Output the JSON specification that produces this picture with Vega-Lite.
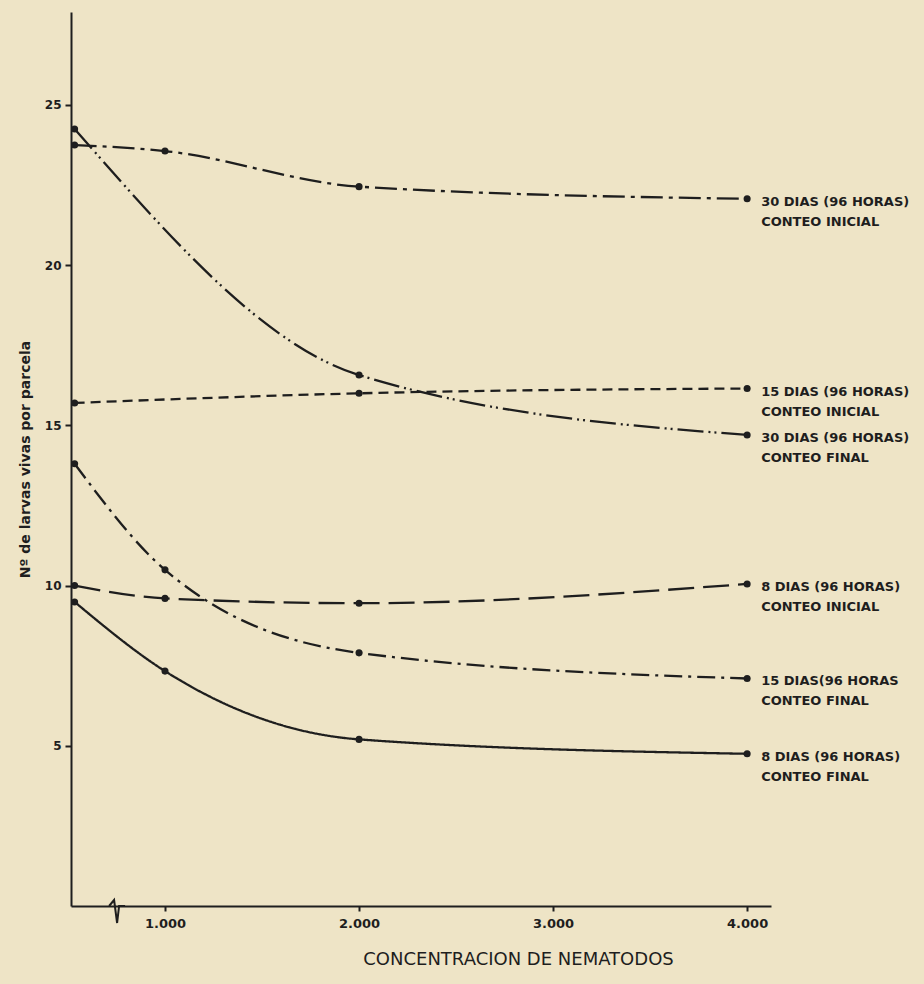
{
  "$schema": "https://vega.github.io/schema/vega-lite/v6.json",
  "autosize": "none",
  "width": 700,
  "height": 894,
  "padding": {"left": 71, "top": 12, "right": 153, "bottom": 78},
  "background": "#eee4c6",
  "config": {
    "view": {"stroke": null},
    "axis": {"domainColor": "#1e1e1e", "tickColor": "#1e1e1e", "labelColor": "#1e1e1e", "titleColor": "#1e1e1e", "grid": false, "labelFont": "DejaVu Sans", "titleFont": "DejaVu Sans"}
  },
  "datasets": {
    "curvas": [
      {"curva": "30i", "dias": "30 DIAS (96 HORAS)", "conteo": "CONTEO INICIAL", "concentracion": 500, "larvas": 23.75},
      {"curva": "30i", "dias": "30 DIAS (96 HORAS)", "conteo": "CONTEO INICIAL", "concentracion": 1000, "larvas": 23.56},
      {"curva": "30i", "dias": "30 DIAS (96 HORAS)", "conteo": "CONTEO INICIAL", "concentracion": 2000, "larvas": 22.45},
      {"curva": "30i", "dias": "30 DIAS (96 HORAS)", "conteo": "CONTEO INICIAL", "concentracion": 4000, "larvas": 22.07},
      {"curva": "30f", "dias": "30 DIAS (96 HORAS)", "conteo": "CONTEO FINAL", "concentracion": 500, "larvas": 24.25},
      {"curva": "30f", "dias": "30 DIAS (96 HORAS)", "conteo": "CONTEO FINAL", "concentracion": 2000, "larvas": 16.57},
      {"curva": "30f", "dias": "30 DIAS (96 HORAS)", "conteo": "CONTEO FINAL", "concentracion": 4000, "larvas": 14.7},
      {"curva": "15i", "dias": "15 DIAS (96 HORAS)", "conteo": "CONTEO INICIAL", "concentracion": 500, "larvas": 15.7},
      {"curva": "15i", "dias": "15 DIAS (96 HORAS)", "conteo": "CONTEO INICIAL", "concentracion": 2000, "larvas": 16.0},
      {"curva": "15i", "dias": "15 DIAS (96 HORAS)", "conteo": "CONTEO INICIAL", "concentracion": 4000, "larvas": 16.15},
      {"curva": "8i", "dias": "8 DIAS (96 HORAS)", "conteo": "CONTEO INICIAL", "concentracion": 500, "larvas": 10.0},
      {"curva": "8i", "dias": "8 DIAS (96 HORAS)", "conteo": "CONTEO INICIAL", "concentracion": 1000, "larvas": 9.6},
      {"curva": "8i", "dias": "8 DIAS (96 HORAS)", "conteo": "CONTEO INICIAL", "concentracion": 2000, "larvas": 9.45},
      {"curva": "8i", "dias": "8 DIAS (96 HORAS)", "conteo": "CONTEO INICIAL", "concentracion": 4000, "larvas": 10.05},
      {"curva": "15f", "dias": "15 DIAS(96 HORAS", "conteo": "CONTEO FINAL", "concentracion": 500, "larvas": 13.8},
      {"curva": "15f", "dias": "15 DIAS(96 HORAS", "conteo": "CONTEO FINAL", "concentracion": 1000, "larvas": 10.49},
      {"curva": "15f", "dias": "15 DIAS(96 HORAS", "conteo": "CONTEO FINAL", "concentracion": 2000, "larvas": 7.9},
      {"curva": "15f", "dias": "15 DIAS(96 HORAS", "conteo": "CONTEO FINAL", "concentracion": 4000, "larvas": 7.1},
      {"curva": "8f", "dias": "8 DIAS (96 HORAS)", "conteo": "CONTEO FINAL", "concentracion": 500, "larvas": 9.49},
      {"curva": "8f", "dias": "8 DIAS (96 HORAS)", "conteo": "CONTEO FINAL", "concentracion": 1000, "larvas": 7.33},
      {"curva": "8f", "dias": "8 DIAS (96 HORAS)", "conteo": "CONTEO FINAL", "concentracion": 2000, "larvas": 5.2},
      {"curva": "8f", "dias": "8 DIAS (96 HORAS)", "conteo": "CONTEO FINAL", "concentracion": 4000, "larvas": 4.75}
    ],
    "corte": [{"concentracion": 735, "larvas": 0}]
  },
  "encoding": {
    "x": {
      "field": "concentracion", "type": "quantitative",
      "scale": {"domain": [480, 1000, 4123], "range": [0, 94, 700]},
      "axis": {
        "values": [1000, 2000, 3000, 4000],
        "labelExpr": "replace(format(datum.value, ','), ',', '.')",
        "title": "CONCENTRACION DE NEMATODOS",
        "titleFontSize": 18, "titleFontWeight": 500, "titlePadding": 20,
        "titleX": 447,
        "labelFontSize": 13, "labelFontWeight": "bold", "labelPadding": 6,
        "tickSize": 5, "domainWidth": 2, "tickWidth": 2
      }
    },
    "y": {
      "field": "larvas", "type": "quantitative",
      "scale": {"domain": [0, 27.9], "nice": false, "zero": true},
      "axis": {
        "values": [5, 10, 15, 20, 25],
        "title": "Nº de larvas vivas por parcela",
        "titleFontSize": 14, "titleFontWeight": "bold", "titlePadding": 12,
        "labelFontSize": 12, "labelFontWeight": "bold", "labelPadding": 4,
        "tickSize": 6, "domainWidth": 2, "tickWidth": 2
      }
    }
  },
  "layer": [
    {
      "data": {"name": "curvas"},
      "mark": {"type": "line", "interpolate": "monotone", "strokeWidth": 2.3, "color": "#1e1e1e"},
      "encoding": {
        "detail": {"field": "curva"},
        "strokeDash": {
          "field": "curva", "type": "nominal", "legend": null,
          "scale": {
            "domain": ["30i", "30f", "15i", "8i", "15f", "8f"],
            "range": [[22, 6, 4, 6], [26, 5, 2, 4, 2, 5], [10, 6], [26, 9], [18, 6, 3, 6], [1, 0]]
          }
        }
      }
    },
    {
      "data": {"name": "curvas"},
      "mark": {"type": "circle", "size": 50, "opacity": 1, "color": "#1e1e1e"}
    },
    {
      "data": {"name": "curvas"},
      "transform": [
        {"filter": "datum.concentracion == 4000"},
        {"calculate": "[datum.dias, datum.conteo]", "as": "etiqueta"}
      ],
      "mark": {"type": "text", "align": "left", "baseline": "middle", "dx": 14, "dy": 3, "lineHeight": 20, "font": "DejaVu Sans", "fontSize": 13, "fontWeight": "bold", "color": "#1e1e1e"},
      "encoding": {"text": {"field": "etiqueta"}}
    },
    {
      "data": {"name": "corte"},
      "mark": {"type": "point", "shape": "M-0.8,0 L-0.3,-0.6 L0,1.7 L0.2,0 L0.8,0", "size": 400, "filled": false, "stroke": "#1e1e1e", "strokeWidth": 2, "opacity": 1}
    }
  ]
}
